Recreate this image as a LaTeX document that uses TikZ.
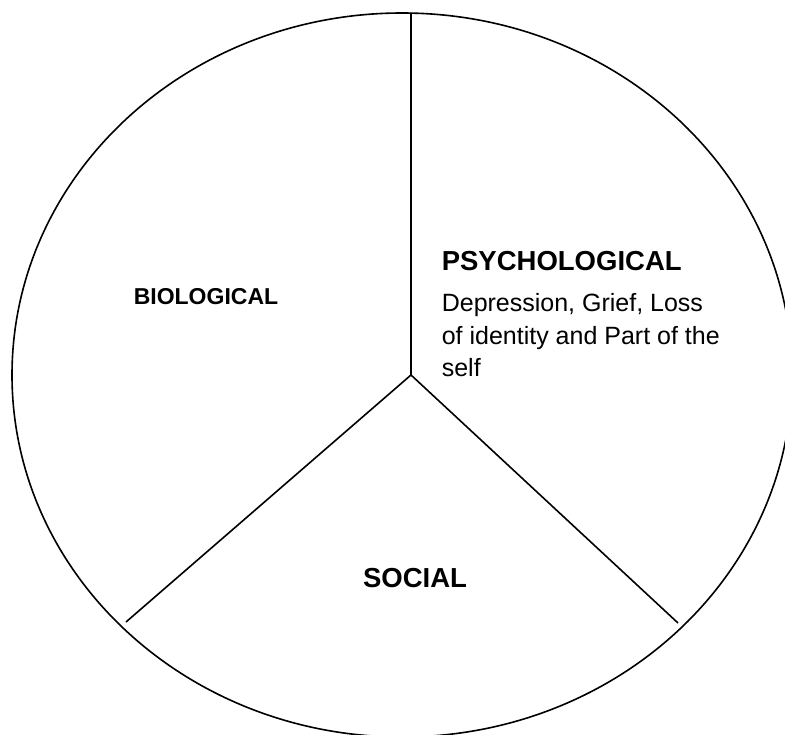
\documentclass[tikz,border=0pt]{standalone}
\usepackage{fontspec}
\setmainfont{Liberation Sans}
\usetikzlibrary{positioning}
\tikzset{
  heading/.style={inner sep=0pt, anchor=base west, font=\bfseries\fontsize{23}{27}\selectfont},
  bigheading/.style={heading, font=\bfseries\fontsize{27.5}{32}\selectfont},
  bodytext/.style={inner sep=0pt, anchor=north west, align=left, font=\fontsize{25}{32.5}\selectfont}
}

\begin{document}
\begin{tikzpicture}[x=1pt, y=-1pt, line width=1.6pt]
\useasboundingbox (0,0) rectangle (785,735);
% the three slices meet at the hub
\coordinate (hub) at (411,375);
\coordinate (top) at (411,13);
\coordinate (lowleft) at (126,622);
\coordinate (lowright) at (678,623);
\draw (402,375) ellipse [x radius=390, y radius=362];
\draw (hub) -- (top)
      (hub) -- (lowleft)
      (hub) -- (lowright);
% labels
\node[heading] (bio) at (133,305) {BIOLOGICAL};
\node[bigheading] (psy) at (441,271) {PSYCHOLOGICAL};
\node[bodytext, below=21pt of psy.south west, anchor=north west] (symptoms)
  {Depression, Grief, Loss\\of identity and Part of the\\self};
\node[heading, anchor=base, font=\bfseries\fontsize{27.5}{32}\selectfont] (soc) at (415,587) {SOCIAL};
\end{tikzpicture}
\end{document}
